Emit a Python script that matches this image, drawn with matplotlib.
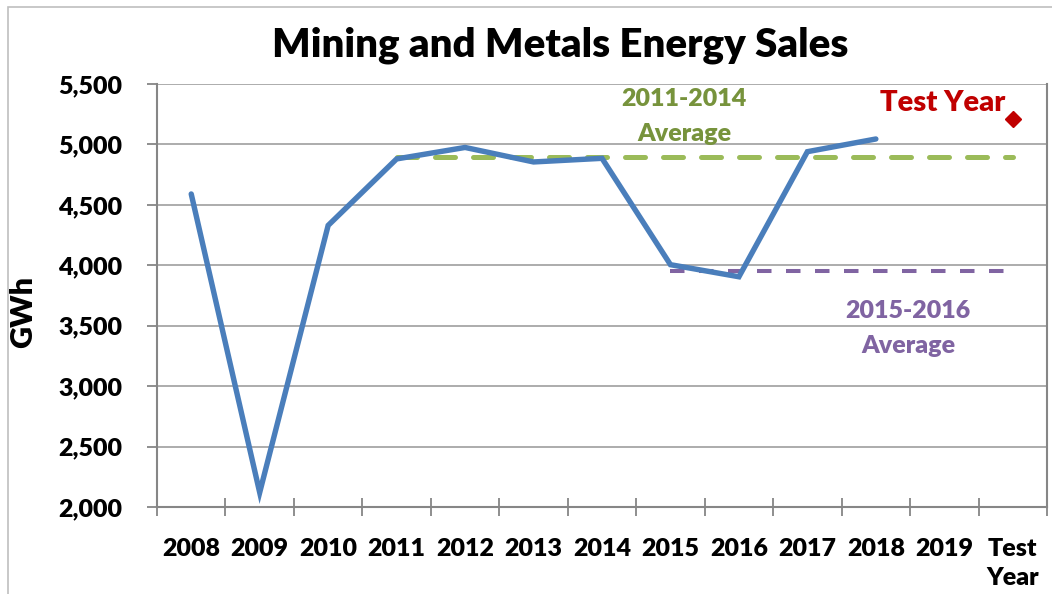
import numpy as np
import matplotlib.pyplot as plt
from matplotlib.patches import Rectangle

plt.rcParams['font.family'] = ['Lato', 'DejaVu Sans']
plt.rcParams['font.weight'] = 'heavy'

categories = ["2008", "2009", "2010", "2011", "2012", "2013", "2014",
              "2015", "2016", "2017", "2018", "2019", "Test\nYear"]
sales = [4590, 2120, 4330, 4880, 4975, 4855, 4885, 4005, 3905, 4940, 5045]
test_year = 5210
avg_2011_2014 = 4895
avg_2015_2016 = 3955

fig = plt.figure(figsize=(10.52, 5.94), dpi=100)
# chart area border
fig.patches.append(Rectangle((8 / 1052, -0.1), 1.2, 0.1 + (594 - 7) / 594,
                             transform=fig.transFigure, fill=False,
                             edgecolor='#BFBFBF', linewidth=1.2))

ax = fig.add_axes([157 / 1052, 87 / 594, 890 / 1052, 423 / 594])
x = np.arange(len(categories))

ax.plot(x[:len(sales)], sales, color='#4A7EBB', linewidth=3.9,
        solid_capstyle='round', solid_joinstyle='miter', zorder=3)
ax.plot([x[3], x[-1]], [avg_2011_2014] * 2, color='#9BBB59', linewidth=3.6,
        dashes=(4, 3.6), dash_capstyle='round', zorder=2)
ax.plot([x[7], x[-1]], [avg_2015_2016] * 2, color='#8064A2', linewidth=2.9,
        dashes=(3.6, 3.6), zorder=2)
ax.plot([x[-1]], [test_year], marker='D', color='#C00000', markersize=8.5,
        linestyle='none', zorder=4)

ax.set_xlim(-0.5, len(categories) - 0.5)
ax.set_ylim(2000, 5500)
ax.set_yticks(np.arange(2000, 5501, 500))
ax.set_yticklabels([f"{v:,}" for v in range(2000, 5501, 500)])
ax.set_xticks(x)
ax.set_xticklabels(categories, linespacing=1.4)
ax.set_xticks(np.arange(-0.5, len(categories)), minor=True)
ax.grid(axis='y', color='#A6A6A6', linewidth=1.3)
ax.set_axisbelow(True)

ax.spines['top'].set_visible(False)
for s in ['left', 'bottom', 'right']:
    ax.spines[s].set_color('#868686')
    ax.spines[s].set_linewidth(1.5)

ax.tick_params(axis='x', which='major', length=0, pad=22, labelsize=18)
ax.tick_params(axis='x', which='minor', direction='inout', length=13,
               color='#868686', width=1.3)
ax.tick_params(axis='y', length=7, color='#868686', width=1.3, pad=18,
               labelsize=18)
for lbl in ax.get_xticklabels() + ax.get_yticklabels():
    lbl.set_fontweight('heavy')

ax.set_ylabel("GWh", fontsize=22, fontweight='heavy')
ax.yaxis.set_label_coords(-0.135, 0.46)

ax.text(7.2, 5232, "2011-2014\nAverage", color='#77933C', fontsize=18,
        fontweight='heavy', ha='center', va='center', linespacing=1.7)
ax.text(10.47, 3478, "2015-2016\nAverage", color='#8064A2', fontsize=18,
        fontweight='heavy', ha='center', va='center', linespacing=1.7)
ax.text(10.97, 5345, "Test Year", color='#C00000', fontsize=21,
        fontweight='heavy', ha='center', va='center')

fig.text(560 / 1052, 1 - 45 / 594, "Mining and Metals Energy Sales",
         fontsize=29, fontweight='heavy', ha='center', va='center')

fig.savefig('out.png', dpi=100)
